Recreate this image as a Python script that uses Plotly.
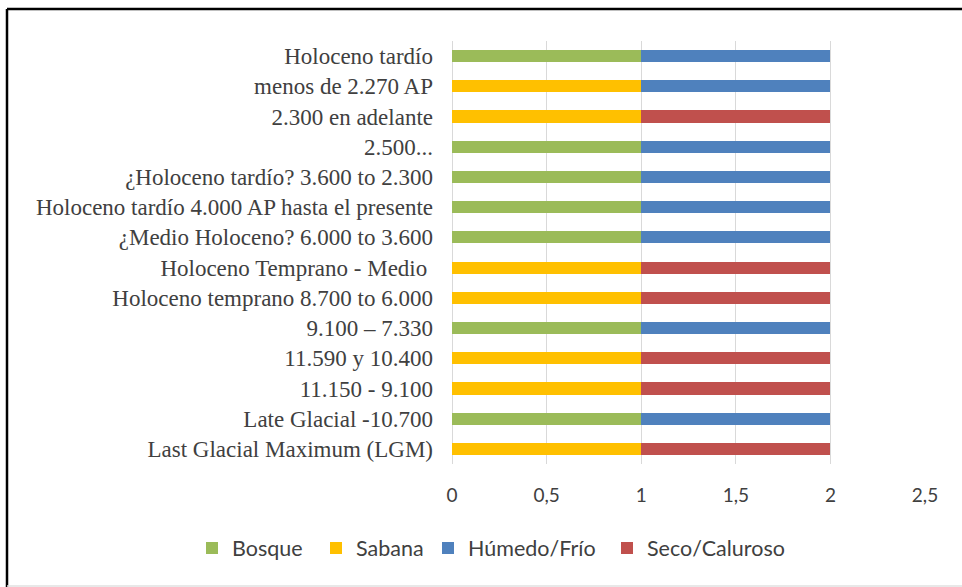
import plotly.graph_objects as go

categories = [
    "Holoceno tardío",
    "menos de 2.270 AP",
    "2.300 en adelante",
    "2.500...",
    "¿Holoceno tardío? 3.600 to 2.300",
    "Holoceno tardío 4.000 AP hasta el presente",
    "¿Medio Holoceno? 6.000 to 3.600",
    "Holoceno Temprano - Medio ",
    "Holoceno temprano 8.700 to 6.000",
    "9.100 – 7.330",
    "11.590 y 10.400",
    "11.150 - 9.100",
    "Late Glacial -10.700",
    "Last Glacial Maximum (LGM)",
]
bosque = [1, 0, 0, 1, 1, 1, 1, 0, 0, 1, 0, 0, 1, 0]
sabana = [0, 1, 1, 0, 0, 0, 0, 1, 1, 0, 1, 1, 0, 1]
humedo = [1, 1, 0, 1, 1, 1, 1, 0, 0, 1, 0, 0, 1, 0]
seco = [0, 0, 1, 0, 0, 0, 0, 1, 1, 0, 1, 1, 0, 1]

x_tickvals = [0, 0.5, 1, 1.5, 2, 2.5]
x_ticktext = ["0", "0,5", "1", "1,5", "2", "2,5"]

series = [
    ("Bosque", bosque, "#9BBB59"),
    ("Sabana", sabana, "#FFC000"),
    ("Húmedo/Frío", humedo, "#4F81BD"),
    ("Seco/Caluroso", seco, "#C0504D"),
]

W, H = 962, 587
L, R, T, B = 452, 925, 41, 464


def px(xp):
    return (xp - L) / (R - L)


def py(yp):
    return (B - yp) / (B - T)


# legend square left edges (pixels) measured on the reference
legend_px = [209, 333, 445, 624]
legend_font = dict(family="Lato, Open Sans, sans-serif", size=21.5, color="#404040")

fig = go.Figure()
legend_layouts = {}
for i, (name, vals, col) in enumerate(series):
    lname = "legend" if i == 0 else f"legend{i + 1}"
    fig.add_trace(go.Bar(
        y=categories, x=vals, name=name, orientation="h",
        marker=dict(color=col, line=dict(width=0)),
        legend=lname,
    ))
    legend_layouts[lname] = dict(
        orientation="h", x=px(legend_px[i] - 17), y=py(548),
        xanchor="left", yanchor="middle", font=legend_font,
        itemwidth=30, bgcolor="rgba(0,0,0,0)",
    )

fig.update_layout(
    width=W, height=H,
    margin=dict(l=L, r=W - R, t=T, b=H - B),
    barmode="stack",
    bargap=0.6,
    plot_bgcolor="white",
    paper_bgcolor="white",
    showlegend=True,
    xaxis=dict(
        range=[0, 2.5], tickvals=x_tickvals, ticktext=x_ticktext,
        showgrid=True, gridcolor="#D9D9D9", gridwidth=1,
        zeroline=True, zerolinecolor="#D9D9D9", zerolinewidth=1,
        showline=False, ticks="", ticklabelstandoff=18,
        tickfont=dict(family="Lato, Open Sans, sans-serif", size=19, color="#404040"),
        fixedrange=True,
    ),
    yaxis=dict(
        autorange="reversed", showgrid=False, zeroline=False, showline=False,
        ticks="", ticklabelstandoff=18,
        tickfont=dict(family="Liberation Serif, DejaVu Serif, serif", size=23, color="#404040"),
        fixedrange=True,
    ),
    shapes=[
        dict(type="line", xref="paper", yref="paper", x0=px(7), x1=px(962), y0=py(9), y1=py(9),
             line=dict(color="black", width=2.5)),
        dict(type="line", xref="paper", yref="paper", x0=px(7), x1=px(7), y0=py(9), y1=py(587),
             line=dict(color="black", width=2.5)),
        dict(type="line", xref="paper", yref="paper", x0=px(7), x1=px(962), y0=py(586), y1=py(586),
             line=dict(color="#E0E0E0", width=1.5)),
    ],
)
fig.update_layout(**legend_layouts)

fig.write_html("out.html")
